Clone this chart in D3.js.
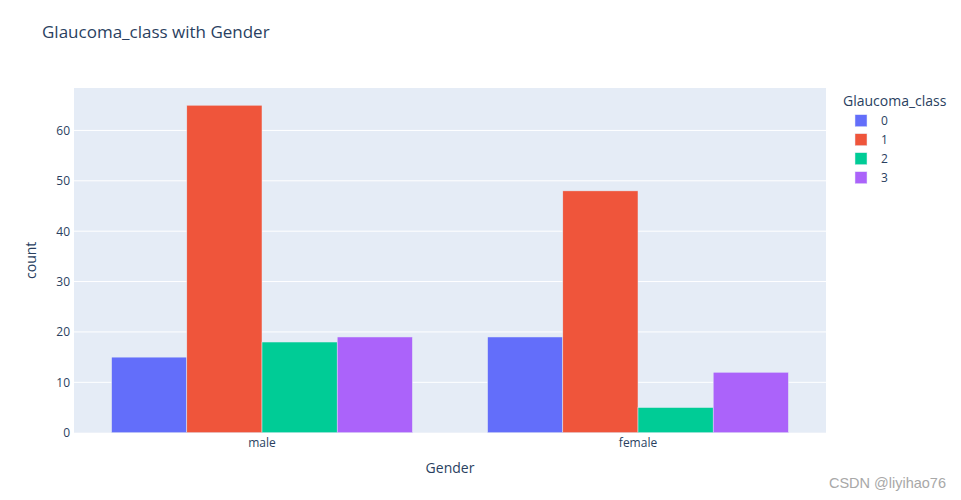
<!DOCTYPE html>
<html><head><meta charset="utf-8">
<script src="https://cdn.jsdelivr.net/npm/d3@7"></script>
<style>body{margin:0;background:#fff;} text{font-family:"Open Sans",sans-serif;}</style>
</head><body><svg id="c" width="961" height="500"></svg>
<script>
const categories = ["male", "female"];
const classes = ["0", "1", "2", "3"];
const values = {
  "0": [15, 19],
  "1": [65, 48],
  "2": [18, 5],
  "3": [19, 12]
};
const colors = ["#636efa", "#EF553B", "#00cc96", "#ab63fa"];
const yTicks = [0, 10, 20, 30, 40, 50, 60];

const svg = d3.select("#c");
const m = {l: 74, r: 826, t: 88, b: 432.7};
const ink = "#2a3f5f";

svg.append("rect").attr("x", m.l).attr("y", m.t).attr("width", m.r - m.l).attr("height", m.b - m.t).attr("fill", "#E5ECF6");

const x0 = d3.scaleBand().domain(categories).range([m.l, m.r]).paddingInner(0.2).paddingOuter(0.1);
const x1 = d3.scaleBand().domain(classes).range([0, x0.bandwidth()]);
const y = d3.scaleLinear().domain([0, 68.42]).range([m.b, m.t]);

// grid
svg.append("g").selectAll("line").data(yTicks.filter(d => d > 0)).join("line")
  .attr("x1", m.l).attr("x2", m.r).attr("y1", d => y(d)).attr("y2", d => y(d))
  .attr("stroke", "#fff").attr("stroke-width", 1);

// bars
classes.forEach((c, i) => {
  svg.append("g").selectAll("rect").data(categories).join("rect")
    .attr("x", d => x0(d) + x1(c))
    .attr("width", x1.bandwidth())
    .attr("y", (d, j) => y(values[c][j]))
    .attr("height", (d, j) => y(0) - y(values[c][j]))
    .attr("fill", colors[i])
    .attr("stroke", "#E5ECF6").attr("stroke-width", 0.5);
});

// y axis
const ya = svg.append("g").attr("transform", `translate(${m.l},0)`)
  .call(d3.axisLeft(y).tickValues(yTicks).tickSize(0).tickPadding(4));
ya.select(".domain").remove();
ya.selectAll("text").attr("fill", ink).attr("font-size", 12).style("font-family", "Open Sans");

// x axis
const xa = svg.append("g").attr("transform", `translate(0,${m.b})`)
  .call(d3.axisBottom(x0).tickSize(0).tickPadding(6));
xa.select(".domain").remove();
xa.selectAll("text").attr("fill", ink).attr("font-size", 12).style("font-family", "Open Sans");

// titles
svg.append("text").attr("x", 42).attr("y", 38).attr("font-size", 17).attr("fill", ink).text("Glaucoma_class with Gender");
svg.append("text").attr("x", (m.l + m.r) / 2).attr("y", 473).attr("text-anchor", "middle").attr("font-size", 14).attr("fill", ink).text("Gender");
svg.append("text").attr("transform", `translate(36,${(m.t + m.b) / 2}) rotate(-90)`).attr("text-anchor", "middle").attr("font-size", 14).attr("fill", ink).text("count");

// legend
const lg = svg.append("g");
lg.append("text").attr("x", 843).attr("y", 106).attr("font-size", 14).attr("fill", ink).text("Glaucoma_class");
classes.forEach((c, i) => {
  const cy = 120.7 + i * 19;
  lg.append("rect").attr("x", 855).attr("y", cy - 6).attr("width", 12).attr("height", 12)
    .attr("fill", colors[i]).attr("stroke", "#E5ECF6").attr("stroke-width", 0.5);
  lg.append("text").attr("x", 881).attr("y", cy + 4.5).attr("font-size", 12).attr("fill", ink).text(c);
});

// watermark
svg.append("text").attr("x", 946).attr("y", 487.5).attr("text-anchor", "end").attr("font-size", 14.5).attr("fill", "#a8a8a8").style("font-family", "Liberation Sans, Arial, sans-serif").text("CSDN @liyihao76");
</script></body></html>
